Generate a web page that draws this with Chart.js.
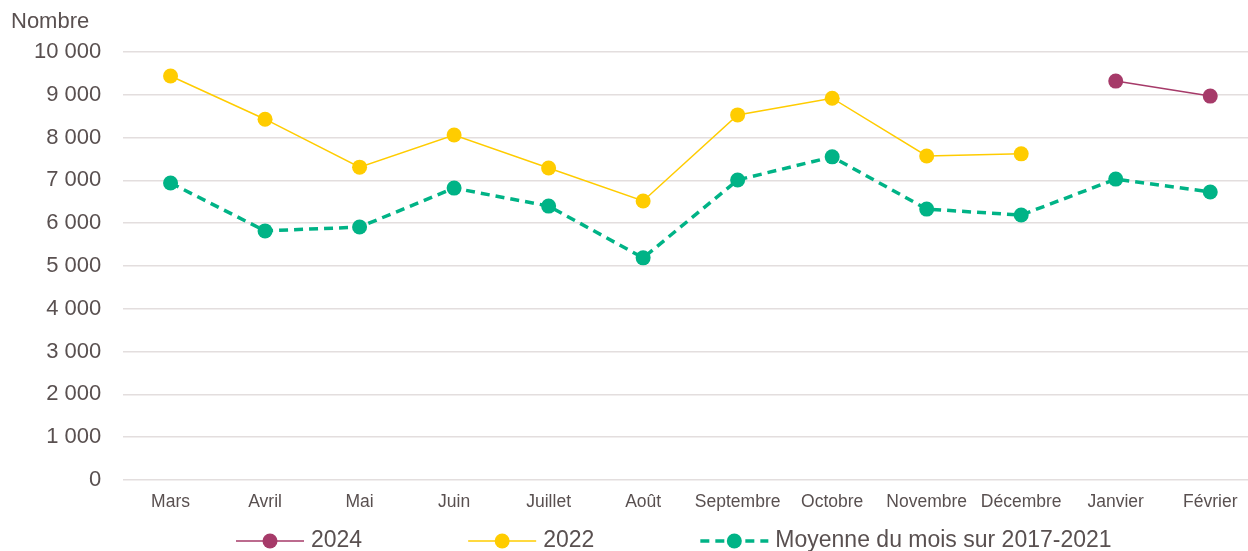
<!DOCTYPE html>
<html>
<head>
<meta charset="utf-8">
<script src="https://cdn.jsdelivr.net/npm/chart.js@4"></script>
<style>
  html, body { margin: 0; padding: 0; background: #fff; overflow: hidden; }
  #wrap { width: 1265px; height: 551px; }
</style>
</head>
<body>
<div id="wrap"><canvas id="chart" width="1265" height="551"></canvas></div>
<script>
const months = ['Mars', 'Avril', 'Mai', 'Juin', 'Juillet', 'Août', 'Septembre', 'Octobre', 'Novembre', 'Décembre', 'Janvier', 'Février'];
const values2024 = [null, null, null, null, null, null, null, null, null, null, 9320, 8970];
const values2022 = [9440, 8430, 7310, 8060, 7290, 6520, 8530, 8920, 7570, 7620, null, null];
const valuesMoyenne = [6940, 5820, 5910, 6820, 6400, 5190, 7010, 7550, 6330, 6190, 7030, 6730];
const yTicks = [0, 1000, 2000, 3000, 4000, 5000, 6000, 7000, 8000, 9000, 10000];

const textColor = '#595050';
const fontFamily = '"Liberation Sans", Arial, sans-serif';

// titre "Nombre" + légende avec trait et point
const extras = {
  id: 'extras',
  afterDraw(chart) {
    const ctx = chart.ctx;
    ctx.save();
    ctx.fillStyle = textColor;
    ctx.font = '22px ' + fontFamily;
    ctx.textAlign = 'left';
    ctx.textBaseline = 'middle';
    ctx.fillText('Nombre', 11, 22);

    ctx.font = '23px ' + fontFamily;
    let x = 236;
    const y = 541;
    chart.data.datasets.forEach(ds => {
      ctx.strokeStyle = ds.borderColor;
      ctx.lineWidth = ds.borderWidth;
      ctx.setLineDash(ds.borderDash || []);
      ctx.beginPath();
      ctx.moveTo(x, y);
      ctx.lineTo(x + 68, y);
      ctx.stroke();
      ctx.setLineDash([]);
      ctx.fillStyle = ds.pointBackgroundColor;
      ctx.beginPath();
      ctx.arc(x + 34, y, ds.pointRadius, 0, Math.PI * 2);
      ctx.fill();
      ctx.fillStyle = textColor;
      ctx.fillText(ds.label, x + 75, y);
      x += 75 + ctx.measureText(ds.label).width + 106;
    });
    ctx.restore();
  }
};

new Chart(document.getElementById('chart'), {
  type: 'line',
  data: {
    labels: months,
    datasets: [
      {
        label: '2024',
        data: values2024,
        borderColor: '#a63a69',
        backgroundColor: '#a63a69',
        pointBackgroundColor: '#a63a69',
        pointBorderWidth: 0,
        borderWidth: 1.5,
        pointRadius: 7.5,
        spanGaps: false
      },
      {
        label: '2022',
        data: values2022,
        borderColor: '#ffcc00',
        backgroundColor: '#ffcc00',
        pointBackgroundColor: '#ffcc00',
        pointBorderWidth: 0,
        borderWidth: 1.5,
        pointRadius: 7.5,
        spanGaps: false
      },
      {
        label: 'Moyenne du mois sur 2017-2021',
        data: valuesMoyenne,
        borderColor: '#00b386',
        backgroundColor: '#00b386',
        pointBackgroundColor: '#00b386',
        pointBorderWidth: 0,
        borderWidth: 3.5,
        borderDash: [9, 6],
        pointRadius: 7.5
      }
    ]
  },
  options: {
    responsive: false,
    animation: false,
    layout: { padding: { top: 52, left: 12, right: 0, bottom: 34 } },
    plugins: {
      legend: { display: false },
      title: { display: false },
      tooltip: { enabled: false }
    },
    scales: {
      x: {
        offset: true,
        grid: { display: false },
        border: { display: false },
        ticks: {
          color: textColor,
          font: { family: fontFamily, size: 17.5 },
          padding: 4,
          maxRotation: 0,
          autoSkip: false
        }
      },
      y: {
        min: 0,
        max: 10000,
        afterBuildTicks(axis) {
          axis.ticks = yTicks.map(v => ({ value: v }));
        },
        grid: { color: '#e3dede', lineWidth: 1.5, drawTicks: false },
        border: { display: false },
        ticks: {
          color: textColor,
          font: { family: fontFamily, size: 22 },
          padding: 22,
          callback: v => v >= 1000 ? Math.floor(v / 1000) + ' 000' : String(v)
        }
      }
    }
  },
  plugins: [extras]
});
</script>
</body>
</html>
